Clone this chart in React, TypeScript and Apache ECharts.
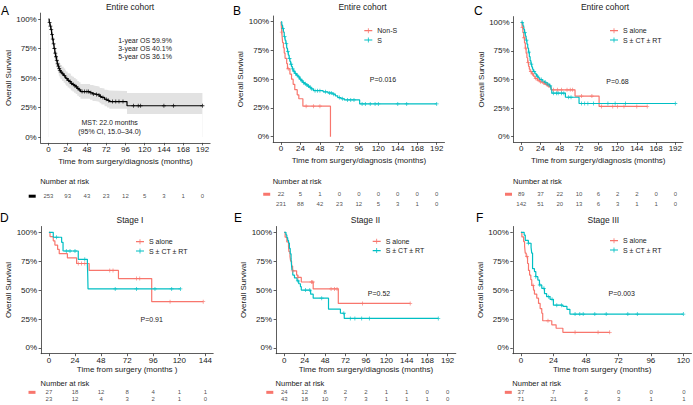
import React, { useEffect, useRef } from "react";
import * as echarts from "echarts";

const FONT = "'Liberation Sans', Arial, Helvetica, sans-serif";
const RED = "#F8766D";
const CYAN = "#00BFC4";
const INK = "#1a1a1a";
const AXIS = "#333333";

// ---------- tick labels ----------
const ticks192 = [0, 24, 48, 72, 96, 120, 144, 168, 192];
const ticks144 = [0, 24, 48, 72, 96, 120, 144];
const ticks120 = [0, 24, 48, 72, 96, 120];
const yTicks = [0, 0.25, 0.5, 0.75, 1];

// ---------- Panel A: entire cohort ----------
const aTimes = [0, 1, 2, 3, 4, 5, 6, 7, 8, 9, 10, 11, 12, 13, 14, 15, 17, 19, 21, 22, 24, 26, 28, 30, 32, 34, 36, 38, 40, 52, 55, 58, 62, 64, 66, 70, 73, 76, 98];
const aSurv = [1, 0.97, 0.94, 0.91, 0.87, 0.83, 0.79, 0.75, 0.71, 0.68, 0.65, 0.62, 0.6, 0.58, 0.565, 0.55, 0.535, 0.52, 0.505, 0.495, 0.48, 0.47, 0.455, 0.445, 0.435, 0.425, 0.41, 0.4, 0.385, 0.375, 0.365, 0.36, 0.355, 0.345, 0.335, 0.32, 0.31, 0.3, 0.265];
const aLower = [1, 0.95, 0.91, 0.875, 0.83, 0.785, 0.74, 0.7, 0.655, 0.62, 0.59, 0.56, 0.54, 0.52, 0.505, 0.49, 0.475, 0.46, 0.445, 0.435, 0.42, 0.41, 0.395, 0.385, 0.375, 0.365, 0.35, 0.34, 0.325, 0.315, 0.305, 0.3, 0.295, 0.285, 0.275, 0.26, 0.25, 0.24, 0.195];
const aUpper = [1, 0.99, 0.97, 0.945, 0.91, 0.875, 0.84, 0.8, 0.765, 0.735, 0.71, 0.68, 0.66, 0.64, 0.625, 0.61, 0.595, 0.58, 0.565, 0.555, 0.54, 0.535, 0.52, 0.51, 0.5, 0.49, 0.475, 0.465, 0.45, 0.44, 0.435, 0.43, 0.425, 0.415, 0.41, 0.4, 0.395, 0.39, 0.372];
const aEnd = 192;
const aCensor = [1.5, 2.5, 3.5, 4.5, 5.5, 6.5, 7.5, 8.5, 9.5, 10.5, 11.5, 12.5, 13.5, 14.5, 16, 18, 20, 23, 25, 27, 29, 31, 33, 35, 37, 39, 42, 45, 48, 50, 53, 56, 60, 63, 65, 68, 72, 75, 80, 84, 88, 93, 106, 112, 115, 144, 156, 192];
const riskA = [253, 93, 43, 23, 12, 5, 3, 1, 0];

// ---------- Panel B: Non-S vs S ----------
const bRedTimes = [0, 0.5, 1, 1.5, 2, 3, 4, 5, 7, 8, 11, 13, 15, 17, 20, 22, 27, 61];
const bRedSurv = [1, 0.955, 0.909, 0.864, 0.818, 0.773, 0.727, 0.682, 0.636, 0.591, 0.545, 0.5, 0.455, 0.409, 0.364, 0.33, 0.265, 0];
const bRedEnd = 61;
const bRedCensor = [1, 9, 31, 40, 48];
const bCyanTimes = [0, 1, 2, 3, 4, 5, 6, 7, 8, 9, 10, 11, 12, 13, 14, 15, 17, 19, 21, 23, 25, 27, 29, 31, 33, 35, 37, 40, 52, 58, 64, 67, 70, 74, 78, 97];
const bCyanSurv = [1, 0.97, 0.94, 0.91, 0.87, 0.84, 0.81, 0.77, 0.74, 0.71, 0.68, 0.655, 0.63, 0.61, 0.59, 0.57, 0.55, 0.535, 0.52, 0.5, 0.485, 0.47, 0.46, 0.45, 0.44, 0.43, 0.415, 0.4, 0.39, 0.38, 0.37, 0.355, 0.34, 0.33, 0.32, 0.285];
const bCyanEnd = 192;
const bCyanCensor = [2.5, 4.5, 6.5, 8.5, 10.5, 12.5, 14.5, 16, 18, 20, 22, 24, 26, 28, 30, 32, 34, 36, 38, 42, 45, 48, 55, 60, 62, 65, 72, 76, 82, 86, 90, 100, 104, 110, 116, 120, 144, 155, 192];
const riskBRed = [22, 5, 1, 0, 0, 0, 0, 0, 0];
const riskBCyan = [231, 88, 42, 23, 12, 5, 3, 1, 0];

// ---------- Panel C: S alone vs S ± CT ± RT (entire cohort) ----------
const cRedTimes = [0, 1, 2, 3, 4, 5, 6, 7, 8, 9, 10, 11, 13, 15, 17, 20, 23, 26, 29, 32, 35, 37, 67, 97];
const cRedSurv = [1, 0.955, 0.91, 0.865, 0.82, 0.775, 0.73, 0.69, 0.65, 0.615, 0.59, 0.57, 0.55, 0.53, 0.51, 0.495, 0.48, 0.47, 0.46, 0.445, 0.435, 0.41, 0.355, 0.265];
const cRedEnd = 157;
const cRedCensor = [1.5, 3.5, 5.5, 8.5, 12, 14, 18, 21, 24, 28, 31, 34, 40, 45, 50, 57, 61, 64, 75, 88, 100, 114, 120, 128, 144, 157];
const cCyanTimes = [0, 2, 3, 4, 5, 6, 7, 8, 9, 10, 11, 12, 13, 14, 15, 17, 19, 21, 23, 26, 29, 32, 35, 37, 38, 55, 72];
const cCyanSurv = [1, 0.97, 0.94, 0.91, 0.88, 0.845, 0.81, 0.775, 0.74, 0.7, 0.665, 0.635, 0.61, 0.59, 0.57, 0.55, 0.53, 0.515, 0.5, 0.485, 0.475, 0.46, 0.445, 0.415, 0.38, 0.345, 0.29];
const cCyanEnd = 192;
const cCyanCensor = [1, 4.5, 6.5, 9.5, 12.5, 16, 20, 25, 30, 33, 36, 40, 44, 46, 50, 53, 59, 62, 75, 79, 83, 90, 108, 117, 130, 192];
const riskCRed = [89, 37, 22, 10, 6, 2, 2, 0, 0];
const riskCCyan = [142, 51, 20, 13, 6, 3, 1, 1, 0];

// ---------- Panel D: Stage I ----------
const dRedTimes = [0, 1, 4, 5.5, 8, 9.5, 17, 25.5, 37, 64, 94.6];
const dRedSurv = [1, 0.963, 0.926, 0.889, 0.852, 0.815, 0.778, 0.73, 0.67, 0.6, 0.4];
const dRedEnd = 142;
const dRedCensor = [27, 30, 33, 56, 59, 80.6, 83.6, 111.5, 142];
const dCyanTimes = [0, 4, 11.7, 13, 27, 35.4, 35.7, 36];
const dCyanSurv = [1, 0.957, 0.913, 0.838, 0.766, 0.72, 0.64, 0.51];
const dCyanEnd = 121;
const dCyanCensor = [7, 16, 19.4, 24, 33, 61, 80.6, 97.6, 113, 121];
const riskDRed = [27, 18, 12, 8, 4, 1, 1];
const riskDCyan = [23, 12, 4, 3, 2, 1, 0];

// ---------- Panel E: Stage II ----------
const eRedTimes = [0, 1, 3, 5, 5.5, 6.7, 7.5, 8.6, 9.8, 14.5, 16, 20, 34, 63.5];
const eRedSurv = [1, 0.958, 0.917, 0.875, 0.833, 0.792, 0.75, 0.708, 0.667, 0.63, 0.61, 0.57, 0.51, 0.385];
const eRedEnd = 148;
const eRedCensor = [10, 16, 32, 33.5, 55, 59, 62, 92, 148];
const eCyanTimes = [0, 2, 3, 4, 5, 6, 7, 8, 8.5, 9, 10, 12, 15, 17, 19, 20, 31, 34, 52, 66, 70.5];
const eCyanSurv = [1, 0.977, 0.953, 0.93, 0.907, 0.86, 0.814, 0.77, 0.72, 0.674, 0.63, 0.605, 0.58, 0.555, 0.53, 0.5, 0.465, 0.43, 0.335, 0.3, 0.255];
const eCyanEnd = 181;
const eCyanCensor = [16, 25, 30, 44, 70, 77.6, 83, 91, 100, 181];
const riskERed = [24, 12, 8, 2, 2, 1, 1, 0, 0];
const riskECyan = [43, 18, 10, 7, 3, 1, 1, 1, 0];

// ---------- Panel F: Stage III ----------
const fRedTimes = [0, 0.7, 2, 2.7, 3.2, 3.9, 4.9, 5.6, 6.4, 7.3, 8, 9.3, 10, 11.7, 13, 14.2, 15.4, 16.1, 22.8, 26, 31];
const fRedSurv = [1, 0.96, 0.92, 0.88, 0.82, 0.79, 0.73, 0.67, 0.63, 0.59, 0.54, 0.5, 0.466, 0.43, 0.385, 0.34, 0.3, 0.235, 0.2, 0.17, 0.135];
const fRedEnd = 65.6;
const fRedCensor = [4.5, 9, 20, 40, 57, 65.6];
const fCyanTimes = [0, 2.4, 3.2, 5.5, 7.5, 8, 8.6, 10, 11, 12.5, 13.7, 15.4, 17.4, 19, 21.5, 24, 31, 34, 36.2];
const fCyanSurv = [1, 0.976, 0.93, 0.905, 0.87, 0.82, 0.685, 0.66, 0.616, 0.587, 0.544, 0.515, 0.47, 0.443, 0.42, 0.37, 0.36, 0.334, 0.293];
const fCyanEnd = 120;
const fCyanCensor = [5.5, 11, 14, 17, 20.5, 23, 26.5, 30, 40, 43.5, 46, 54.6, 63, 79, 86, 120];
const riskFRed = [37, 7, 2, 0, 0, 0];
const riskFCyan = [71, 21, 6, 3, 1, 1];

const PLUS = "path://M-0.2,-1H0.2V1H-0.2Z M-1,-0.2H1V0.2H-1Z";
const LEG_ICON = "path://M0,1.9H8V3.1H0Z M3.6,0H4.4V5H3.6Z";

type Curve = { name: string; color: string; times: number[]; surv: number[]; end: number; censor: number[] };

function stepped(times: number[], vals: number[], end: number) {
  const d = times.map((t, i) => [t, vals[i]]);
  d.push([end, vals[vals.length - 1]]);
  return d;
}
function survAt(times: number[], surv: number[], t: number) {
  let v = surv[0];
  for (let i = 0; i < times.length; i++) if (times[i] <= t) v = surv[i];
  return v;
}

const SD = "Time from surgery/diagnosis (months)";

const panels = [
  {
    letter: "A", title: "Entire cohort", titleX: 130, titleY: 2,
    grid: { left: 40.7, top: 13.1, width: 169.4, height: 129.8 },
    xmin: -9.6, xmax: 201.6, ticks: ticks192, xName: SD, xNameGap: 14.5, yNameGap: 26,
    curves: [{ name: "Overall", color: "#000000", times: aTimes, surv: aSurv, end: aEnd, censor: aCensor }] as Curve[],
    risk: [riskA], riskColors: ["#000000"], riskGrid: { top: 190.2, height: 12 }, riskMargin: 5,
    narY: 181.5,
  },
  {
    letter: "B", title: "Entire cohort", titleX: 362.5, titleY: 2,
    grid: { left: 273.2, top: 16, width: 171.3, height: 126.4 },
    xmin: -9.6, xmax: 201.6, ticks: ticks192, xName: SD, xNameGap: 14.5, yNameGap: 25,
    curves: [
      { name: "Non-S", color: RED, times: bRedTimes, surv: bRedSurv, end: bRedEnd, censor: bRedCensor },
      { name: "S", color: CYAN, times: bCyanTimes, surv: bCyanSurv, end: bCyanEnd, censor: bCyanCensor },
    ] as Curve[],
    risk: [riskBRed, riskBCyan], riskColors: [RED, CYAN], riskGrid: { top: 189.5, height: 19 }, riskMargin: 3,
    legend: { left: 364.3, top: 26.2 }, narY: 181.5,
  },
  {
    letter: "C", title: "Entire cohort", titleX: 605, titleY: 2,
    grid: { left: 513.6, top: 16.6, width: 169.4, height: 125.8 },
    xmin: -9.6, xmax: 201.6, ticks: ticks192, xName: SD, xNameGap: 14.5, yNameGap: 25,
    curves: [
      { name: "S alone", color: RED, times: cRedTimes, surv: cRedSurv, end: cRedEnd, censor: cRedCensor },
      { name: "S ± CT ± RT", color: CYAN, times: cCyanTimes, surv: cCyanSurv, end: cCyanEnd, censor: cCyanCensor },
    ] as Curve[],
    risk: [riskCRed, riskCCyan], riskColors: [RED, CYAN], riskGrid: { top: 189.5, height: 19 }, riskMargin: 1.6,
    legend: { left: 610, top: 26.2 }, narY: 181.5,
  },
  {
    letter: "D", title: "Stage I", titleX: 130, titleY: 215.5,
    grid: { left: 41.1, top: 226.5, width: 172.1, height: 127.2 },
    xmin: -7.2, xmax: 151.2, ticks: ticks144, xName: "Time from surgery (months )", xNameGap: 12, yNameGap: 27,
    curves: [
      { name: "S alone", color: RED, times: dRedTimes, surv: dRedSurv, end: dRedEnd, censor: dRedCensor },
      { name: "S ± CT ± RT", color: CYAN, times: dCyanTimes, surv: dCyanSurv, end: dCyanEnd, censor: dCyanCensor },
    ] as Curve[],
    risk: [riskDRed, riskDCyan], riskColors: [RED, CYAN], riskGrid: { top: 389.2, height: 12.6 }, riskMargin: 5.6,
    legend: { left: 136, top: 237.2 }, narY: 383.6,
  },
  {
    letter: "E", title: "Stage II", titleX: 365.5, titleY: 215.5,
    grid: { left: 276.1, top: 226.5, width: 179.7, height: 127.2 },
    xmin: -9.6, xmax: 201.6, ticks: ticks192, xName: SD, xNameGap: 12, yNameGap: 27,
    curves: [
      { name: "S alone", color: RED, times: eRedTimes, surv: eRedSurv, end: eRedEnd, censor: eRedCensor },
      { name: "S ± CT ± RT", color: CYAN, times: eCyanTimes, surv: eCyanSurv, end: eCyanEnd, censor: eCyanCensor },
    ] as Curve[],
    risk: [riskERed, riskECyan], riskColors: [RED, CYAN], riskGrid: { top: 389.2, height: 12.6 }, riskMargin: 2.8,
    legend: { left: 372.7, top: 236.8 }, narY: 383.6,
  },
  {
    letter: "F", title: "Stage III", titleX: 603.3, titleY: 215.5,
    grid: { left: 512.8, top: 226.5, width: 179.2, height: 127.2 },
    xmin: -6, xmax: 126, ticks: ticks120, xName: "Time from surgery (months)", xNameGap: 12, yNameGap: 26,
    curves: [
      { name: "S alone", color: RED, times: fRedTimes, surv: fRedSurv, end: fRedEnd, censor: fRedCensor },
      { name: "S ± CT ± RT", color: CYAN, times: fCyanTimes, surv: fCyanSurv, end: fCyanEnd, censor: fCyanCensor },
    ] as Curve[],
    risk: [riskFRed, riskFCyan], riskColors: [RED, CYAN], riskGrid: { top: 389.2, height: 12.6 }, riskMargin: 1,
    legend: { left: 610, top: 236.2 }, narY: 383.6,
  },
];

const letterPos = [
  [1, 10.5], [233, 10.5], [474, 10.5], [0, 218], [234, 218], [476, 218],
];

const notes = [
  { text: "1-year OS 59.9%", x: 145, y: 40 },
  { text: "3-year OS 40.1%", x: 145, y: 48.3 },
  { text: "5-year OS 36.1%", x: 145, y: 56.7 },
  { text: "MST: 22.0 months", x: 109.6, y: 122.7 },
  { text: "(95% CI, 15.0–34.0)", x: 109.6, y: 131 },
  { text: "P=0.016", x: 383, y: 79 },
  { text: "P=0.68", x: 617.5, y: 81.7 },
  { text: "P=0.91", x: 151.7, y: 319.3 },
  { text: "P=0.52", x: 379, y: 293 },
  { text: "P=0.003", x: 621.7, y: 293 },
];

function buildOption() {
  const grid: any[] = [];
  const xAxis: any[] = [];
  const yAxis: any[] = [];
  const series: any[] = [];
  const legend: any[] = [];
  const title: any[] = [];
  const graphic: any[] = [];

  panels.forEach((p, pi) => {
    const gi = grid.length;
    grid.push({ ...p.grid, containLabel: false });
    xAxis.push({
      gridIndex: gi, type: "value", min: p.xmin, max: p.xmax,
      axisLine: { show: true, onZero: false, lineStyle: { color: AXIS, width: 0.8 } },
      axisTick: { show: true, length: 2.5, customValues: p.ticks, lineStyle: { color: AXIS, width: 0.8 } },
      axisLabel: { customValues: p.ticks, fontSize: 8, color: INK, margin: 2.5, fontFamily: FONT },
      splitLine: { show: false },
      name: p.xName, nameLocation: "middle", nameGap: p.xNameGap,
      nameTextStyle: { fontSize: 8, color: "#222", fontFamily: FONT },
    });
    yAxis.push({
      gridIndex: gi, type: "value", min: -0.05, max: 1.05,
      axisLine: { show: true, onZero: false, lineStyle: { color: AXIS, width: 0.8 } },
      axisTick: { show: true, length: 2.5, customValues: yTicks, lineStyle: { color: AXIS, width: 0.8 } },
      axisLabel: {
        customValues: yTicks, fontSize: 8, color: INK, margin: 4, fontFamily: FONT,
        formatter: (v: number) => Math.round(v * 100) + "%",
      },
      splitLine: { show: false },
      name: "Overall Survival", nameLocation: "middle", nameGap: p.yNameGap,
      nameTextStyle: { fontSize: 8, color: "#222", fontFamily: FONT },
    });

    if (pi === 0) {
      // confidence band: grey area under the upper limit, masked in white under the lower limit
      series.push({
        type: "line", xAxisIndex: gi, yAxisIndex: gi, step: "end",
        data: stepped(aTimes, aUpper, aEnd), symbol: "none", silent: true,
        lineStyle: { opacity: 0, width: 0 }, areaStyle: { color: "#e2e2e2", opacity: 1 }, z: 1,
      });
      series.push({
        type: "line", xAxisIndex: gi, yAxisIndex: gi, step: "end",
        data: stepped(aTimes, aLower, aEnd), symbol: "none", silent: true,
        lineStyle: { opacity: 0, width: 0 }, areaStyle: { color: "#ffffff", opacity: 1 }, z: 1,
      });
    }

    p.curves.forEach((c) => {
      series.push({
        name: c.name, type: "line", xAxisIndex: gi, yAxisIndex: gi, step: "end",
        data: stepped(c.times, c.surv, c.end), symbol: "none", showSymbol: false, silent: true,
        lineStyle: { color: c.color, width: 1.2 }, itemStyle: { color: c.color }, z: 3,
      });
      series.push({
        name: c.name + " censored", type: "scatter", xAxisIndex: gi, yAxisIndex: gi,
        data: c.censor.map((t) => [t, survAt(c.times, c.surv, t)]),
        symbol: PLUS, symbolSize: 4, silent: true, itemStyle: { color: c.color }, z: 4,
      });
    });

    if ((p as any).legend) {
      const lg = (p as any).legend;
      legend.push({
        data: p.curves.map((c) => c.name), orient: "vertical", left: lg.left, top: lg.top,
        itemWidth: 8, itemHeight: 5, itemGap: 0.3, icon: LEG_ICON, padding: 0, selectedMode: false,
        textStyle: { fontSize: 7, color: INK, lineHeight: 9, fontFamily: FONT },
      });
    }

    // risk table grid
    const ri = grid.length;
    grid.push({ left: p.grid.left, width: p.grid.width, top: p.riskGrid.top, height: p.riskGrid.height });
    xAxis.push({ gridIndex: ri, type: "value", min: p.xmin, max: p.xmax, show: false });
    const rich: any = {};
    p.riskColors.forEach((col, k) => {
      rich["m" + k] = { backgroundColor: col, width: 7, height: 3, lineHeight: 3, fontSize: 3 };
    });
    yAxis.push({
      gridIndex: ri, type: "category", data: p.risk.map((_, k) => "row" + k), inverse: true,
      axisLine: { show: false }, axisTick: { show: false }, splitLine: { show: false },
      axisLabel: { margin: p.riskMargin, formatter: (_v: string, k: number) => "{m" + k + "| }", rich },
    });
    p.risk.forEach((row, k) => {
      series.push({
        type: "scatter", xAxisIndex: ri, yAxisIndex: ri, silent: true,
        data: p.ticks.map((t, i) => [t, k, row[i]]),
        symbolSize: 1, itemStyle: { color: "rgba(0,0,0,0)" },
        label: {
          show: true, position: "inside", fontSize: 6, color: INK, fontFamily: FONT,
          formatter: (q: any) => String(q.value[2]),
        },
      });
    });

    title.push({
      text: p.title, left: p.titleX, top: p.titleY, textAlign: "center", padding: 0,
      textStyle: { fontSize: 8.5, fontWeight: "normal", color: INK, fontFamily: FONT },
    });

    graphic.push({
      type: "text", left: p.grid.left - 0.5, top: p.narY - 4.5,
      style: { text: "Number at risk", fontSize: 7.5, fill: INK, fontFamily: FONT },
    });
    graphic.push({
      type: "text", x: letterPos[pi][0], y: letterPos[pi][1],
      style: { text: p.letter, fontSize: 12, fill: "#000", fontFamily: FONT, verticalAlign: "middle", align: "left" },
    });
  });

  notes.forEach((n) => {
    graphic.push({
      type: "text", x: n.x, y: n.y, z: 10,
      style: { text: n.text, fontSize: 7, fill: INK, fontFamily: FONT, align: "center", verticalAlign: "middle" },
    });
  });

  return {
    animation: false,
    backgroundColor: "#ffffff",
    textStyle: { fontFamily: FONT },
    grid, xAxis, yAxis, series, legend, title, graphic,
  };
}

export default function App() {
  const ref = useRef<HTMLDivElement>(null);
  useEffect(() => {
    if (!ref.current) return;
    const chart = echarts.init(ref.current, undefined, { renderer: "svg" });
    chart.setOption(buildOption() as any);
    return () => chart.dispose();
  }, []);
  return (
    <div
      ref={ref}
      style={{ position: "absolute", left: 0, top: 0, width: 693, height: 405, background: "#fff" }}
    />
  );
}
